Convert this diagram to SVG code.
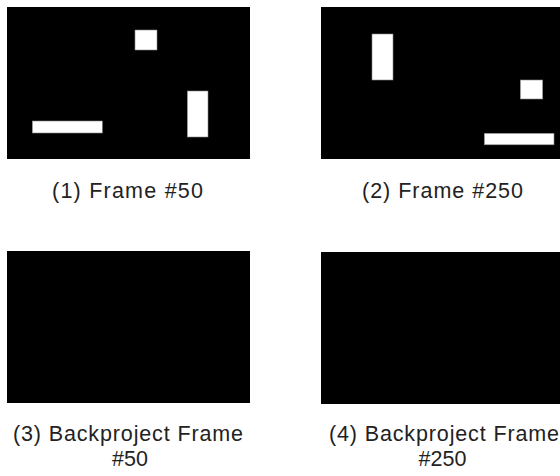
<svg xmlns="http://www.w3.org/2000/svg" width="560" height="476" viewBox="0 0 560 476">
<style>
.frame{fill:#000}
.obj{fill:#fff;stroke:#888;stroke-width:0.6}
.lbl{font-family:"Liberation Sans",Arial,sans-serif;font-size:21.5px;fill:#222;text-anchor:middle}
</style>
<rect width="560" height="476" fill="#fff"/>
<g id="frame50">
<rect class="frame" x="7" y="7" width="243" height="152"/>
<rect class="obj" x="135" y="30" width="22" height="20"/>
<rect class="obj" x="187.3" y="91" width="20.7" height="46"/>
<rect class="obj" x="32.3" y="121" width="70" height="12"/>
<text class="lbl" x="127.5" y="198" textLength="151" lengthAdjust="spacing">(1) Frame #50</text>
</g>
<g id="frame250">
<rect class="frame" x="321" y="7" width="239" height="152"/>
<rect class="obj" x="372" y="34" width="21" height="46"/>
<rect class="obj" x="520.3" y="80" width="22.4" height="19"/>
<rect class="obj" x="484.3" y="133.3" width="69.7" height="11.5"/>
<text class="lbl" x="442.5" y="198" textLength="161" lengthAdjust="spacing">(2) Frame #250</text>
</g>
<g id="backproject50">
<rect class="frame" x="7" y="251" width="243" height="152"/>
<text class="lbl" x="128" y="441" textLength="230" lengthAdjust="spacing">(3) Backproject Frame</text>
<text class="lbl" x="130" y="466">#50</text>
</g>
<g id="backproject250">
<rect class="frame" x="321" y="252" width="239" height="152"/>
<text class="lbl" x="444" y="441" textLength="230" lengthAdjust="spacing">(4) Backproject Frame</text>
<text class="lbl" x="442.5" y="466">#250</text>
</g>
<g id="connectors"/>
</svg>
